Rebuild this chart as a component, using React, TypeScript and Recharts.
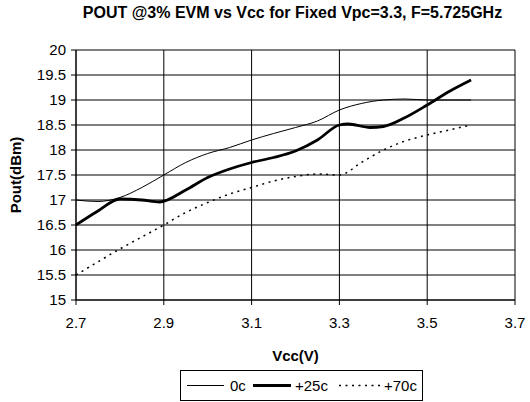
import React from "react";
import { LineChart, Line, XAxis, YAxis, CartesianGrid, Label } from "recharts";

const vcc0 = [2.7, 2.75, 2.8, 2.85, 2.9, 2.95, 3.0, 3.05, 3.1, 3.15, 3.2, 3.25, 3.3, 3.35, 3.4, 3.45, 3.5, 3.55, 3.6];
const pout0 = [17.0, 16.97, 17.05, 17.25, 17.5, 17.75, 17.93, 18.05, 18.2, 18.33, 18.45, 18.58, 18.8, 18.93, 19.0, 19.02, 19.0, 19.0, 19.0];

const vcc25 = [2.7, 2.75, 2.8, 2.85, 2.89, 2.95, 3.0, 3.05, 3.1, 3.15, 3.2, 3.25, 3.3, 3.32, 3.37, 3.4, 3.45, 3.5, 3.55, 3.6];
const pout25 = [16.5, 16.78, 17.02, 17.0, 16.96, 17.2, 17.45, 17.62, 17.75, 17.85, 17.98, 18.2, 18.5, 18.52, 18.45, 18.47, 18.65, 18.9, 19.17, 19.4];

const vcc70 = [2.7, 2.8, 2.9, 2.95, 3.0, 3.05, 3.1, 3.15, 3.2, 3.25, 3.3, 3.35, 3.4, 3.45, 3.5, 3.55, 3.6];
const pout70 = [15.5, 16.02, 16.5, 16.75, 16.95, 17.12, 17.25, 17.38, 17.47, 17.52, 17.5, 17.75, 18.0, 18.18, 18.3, 18.4, 18.5];

const xTicks = [2.7, 2.9, 3.1, 3.3, 3.5, 3.7];
const yTicks = [15, 15.5, 16, 16.5, 17, 17.5, 18, 18.5, 19, 19.5, 20];
const seriesNames = ["0c", "+25c", "+70c"];

const data0 = vcc0.map((v, i) => ({ v, p: pout0[i] }));
const data25 = vcc25.map((v, i) => ({ v, p: pout25[i] }));
const data70 = vcc70.map((v, i) => ({ v, p: pout70[i] }));

const FONT = "'Liberation Sans', Arial, sans-serif";

const LegendBox = () => (
  <div
    style={{
      position: "absolute",
      left: 180,
      top: 370,
      border: "1px solid #000",
      height: 31,
      width: 243,
      boxSizing: "border-box",
      fontFamily: FONT,
      fontSize: 15,
      color: "#000",
      background: "#fff",
    }}
  >
    <svg width={243} height={29} style={{ position: "absolute", left: 0, top: 0 }}>
      <line x1={6} y1={14.5} x2={43} y2={14.5} stroke="#000" strokeWidth={1} />
      <line x1={72} y1={14.5} x2={110} y2={14.5} stroke="#000" strokeWidth={2.8} />
      <line x1={158} y1={14.5} x2={199} y2={14.5} stroke="#000" strokeWidth={1.5} strokeDasharray="2 4.5" />
    </svg>
    <span style={{ position: "absolute", left: 49, top: 6, lineHeight: "17px" }}>{seriesNames[0]}</span>
    <span style={{ position: "absolute", left: 114, top: 6, lineHeight: "17px" }}>{seriesNames[1]}</span>
    <span style={{ position: "absolute", left: 203, top: 6, lineHeight: "17px" }}>{seriesNames[2]}</span>
  </div>
);

export default function App() {
  return (
    <div style={{ position: "absolute", left: 0, top: 0, width: 530, height: 402, background: "#fff" }}>
      <div
        style={{
          position: "absolute",
          top: 4,
          left: 60,
          width: 465,
          textAlign: "center",
          fontFamily: FONT,
          fontWeight: "bold",
          fontSize: 16,
          color: "#000",
          whiteSpace: "nowrap",
        }}
      >
        POUT @3% EVM vs Vcc for Fixed Vpc=3.3, F=5.725GHz
      </div>
      <LineChart
        width={530}
        height={402}
        margin={{ top: 50, right: 15, bottom: 72, left: 20 }}
        style={{ fontFamily: FONT }}
      >
        <CartesianGrid stroke="#000" strokeWidth={1} horizontalValues={yTicks} verticalValues={xTicks} />
        <XAxis
          dataKey="v"
          type="number"
          domain={[2.7, 3.7]}
          ticks={xTicks}
          interval={0}
          height={30}
          allowDuplicatedCategory={false}
          axisLine={{ stroke: "#000" }}
          tickLine={{ stroke: "#000" }}
          tickSize={5}
          tickMargin={12}
          tick={{ fill: "#000", fontSize: 15 }}
          tickFormatter={(v: number) => v.toFixed(1)}
        >
          <Label value="Vcc(V)" position="bottom" offset={20} style={{ fontWeight: "bold", fontSize: 15, fill: "#000" }} />
        </XAxis>
        <YAxis
          type="number"
          domain={[15, 20]}
          ticks={yTicks}
          interval={0}
          width={56}
          axisLine={{ stroke: "#000" }}
          tickLine={{ stroke: "#000" }}
          tickSize={5}
          tickMargin={5}
          tick={{ fill: "#000", fontSize: 15 }}
          tickFormatter={(v: number) => String(v)}
        >
          <Label value="Pout(dBm)" angle={-90} position="insideLeft" offset={-4} style={{ fontWeight: "bold", fontSize: 15, fill: "#000", textAnchor: "middle" }} />
        </YAxis>
        <Line data={data0} dataKey="p" name={seriesNames[0]} type="monotone" stroke="#000" strokeWidth={1} dot={false} isAnimationActive={false} />
        <Line data={data25} dataKey="p" name={seriesNames[1]} type="monotone" stroke="#000" strokeWidth={2.8} dot={false} isAnimationActive={false} />
        <Line data={data70} dataKey="p" name={seriesNames[2]} type="monotone" stroke="#000" strokeWidth={1.5} strokeDasharray="2 4.5" dot={false} isAnimationActive={false} />
      </LineChart>
      <LegendBox />
    </div>
  );
}
